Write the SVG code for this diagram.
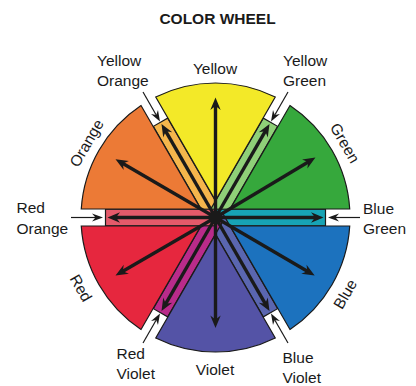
<svg xmlns="http://www.w3.org/2000/svg" width="416" height="386" viewBox="0 0 416 386">
<defs>
<style>
text{font-family:"Liberation Sans",Arial,sans-serif;font-size:15.5px;fill:#1a1a1a}
.title{font-weight:bold;font-size:15.5px}
.sec{stroke:#1a1a1a;stroke-width:1.2}
.strip{stroke:#1a1a1a;stroke-width:1.2}
.thick{stroke:#1a1a1a;stroke-width:3.4;fill:none;marker-end:url(#big)}
.thin{stroke:#1a1a1a;stroke-width:1.2;fill:none;marker-end:url(#small)}
</style>
<marker id="big" markerUnits="userSpaceOnUse" markerWidth="14" markerHeight="12" viewBox="-13 -6 14 12" refX="-6" refY="0" orient="auto"><path d="M0,0 L-12.5,-5.2 L-8.5,0 L-12.5,5.2 Z" fill="#1a1a1a"/></marker>
<marker id="small" markerUnits="userSpaceOnUse" markerWidth="12" markerHeight="10" viewBox="-12 -5 12 10" refX="-3" refY="0" orient="auto"><path d="M0,0 L-11,-4 L-7.5,0 L-11,4 Z" fill="#1a1a1a"/></marker>
</defs>
<rect width="416" height="386" fill="#ffffff"/>
<text class="title" x="217.5" y="24" text-anchor="middle">COLOR WHEEL</text>

<g id="strip-yellow-orange"><rect class="strip" x="0" y="-8.3" width="110" height="16.6" fill="#f5b64c" transform="translate(215.5,217.5) rotate(-120)"/></g>
<g id="strip-yellow-green"><rect class="strip" x="0" y="-8.3" width="110" height="16.6" fill="#8fd078" transform="translate(215.5,217.5) rotate(-60)"/></g>
<g id="strip-blue-green"><rect class="strip" x="0" y="-8.3" width="110" height="16.6" fill="#17a3b5" transform="translate(215.5,217.5) rotate(0)"/></g>
<g id="strip-blue-violet"><rect class="strip" x="0" y="-8.3" width="110" height="16.6" fill="#5a66b0" transform="translate(215.5,217.5) rotate(60)"/></g>
<g id="strip-red-violet"><rect class="strip" x="0" y="-8.3" width="110" height="16.6" fill="#b92b8a" transform="translate(215.5,217.5) rotate(120)"/></g>
<g id="strip-red-orange"><rect class="strip" x="0" y="-8.3" width="110" height="16.6" fill="#e45a6a" transform="translate(215.5,217.5) rotate(180)"/></g>

<g id="yellow"><path class="sec" fill="#f3e928" d="M215.5,200.5 L155.75,97 A134.5,134.5 0 0 1 275.25,97 Z"/></g>
<g id="green"><path class="sec" fill="#36a83c" d="M230.22,209 L289.98,105.5 A134.5,134.5 0 0 1 349.73,209 Z"/></g>
<g id="blue"><path class="sec" fill="#1c72be" d="M230.22,226 L349.73,226 A134.5,134.5 0 0 1 289.98,329.5 Z"/></g>
<g id="violet"><path class="sec" fill="#5453a6" d="M215.5,234.5 L275.25,338 A134.5,134.5 0 0 1 155.75,338 Z"/></g>
<g id="red"><path class="sec" fill="#e6273e" d="M200.78,226 L141.02,329.5 A134.5,134.5 0 0 1 81.27,226 Z"/></g>
<g id="orange"><path class="sec" fill="#ec7a36" d="M200.78,209 L81.27,209 A134.5,134.5 0 0 1 141.02,105.5 Z"/></g>

<g id="connectors">
<line class="thick" x1="215.5" y1="217.5" x2="215.5" y2="103.5"/>
<line class="thick" x1="215.5" y1="217.5" x2="310.3" y2="160.7"/>
<line class="thick" x1="215.5" y1="217.5" x2="309.5" y2="272.5"/>
<line class="thick" x1="215.5" y1="217.5" x2="215.5" y2="322"/>
<line class="thick" x1="215.5" y1="217.5" x2="120.7" y2="272.5"/>
<line class="thick" x1="215.5" y1="217.5" x2="120.7" y2="162.3"/>
<line class="thick" x1="215.5" y1="217.5" x2="164.5" y2="129.2"/>
<line class="thick" x1="215.5" y1="217.5" x2="266.5" y2="129.2"/>
<line class="thick" x1="215.5" y1="217.5" x2="317.5" y2="217.5"/>
<line class="thick" x1="215.5" y1="217.5" x2="266.5" y2="305.8"/>
<line class="thick" x1="215.5" y1="217.5" x2="164.5" y2="305.8"/>
<line class="thick" x1="215.5" y1="217.5" x2="113.5" y2="217.5"/>
<circle cx="215.5" cy="217.5" r="7" fill="#1a1a1a"/>
<line class="thin" x1="143" y1="92" x2="158.5" y2="119"/>
<line class="thin" x1="288" y1="92" x2="272.5" y2="119"/>
<line class="thin" x1="360" y1="217.5" x2="331" y2="217.5"/>
<line class="thin" x1="288" y1="343" x2="272.5" y2="316"/>
<line class="thin" x1="143" y1="343" x2="158.5" y2="316"/>
<line class="thin" x1="71" y1="217.5" x2="100" y2="217.5"/>
</g>

<g id="labels">
<text x="215" y="73.5" text-anchor="middle">Yellow</text>
<text x="97" y="65.5">Yellow</text>
<text x="97" y="86">Orange</text>
<text x="283" y="65.5">Yellow</text>
<text x="283" y="86">Green</text>
<text x="16.5" y="212.5">Red</text>
<text x="16.5" y="233.5">Orange</text>
<text x="363" y="213.5">Blue</text>
<text x="363" y="234">Green</text>
<text x="116.5" y="359">Red</text>
<text x="116.5" y="379">Violet</text>
<text x="215" y="374.5" text-anchor="middle">Violet</text>
<text x="282.5" y="362.5">Blue</text>
<text x="282.5" y="383">Violet</text>
<text transform="translate(86.5,143) rotate(-60)" y="5.5" text-anchor="middle">Orange</text>
<text transform="translate(345,143) rotate(60)" y="5.5" text-anchor="middle">Green</text>
<text transform="translate(81,288) rotate(60)" y="5.5" text-anchor="middle">Red</text>
<text transform="translate(345,294) rotate(-60)" y="5.5" text-anchor="middle">Blue</text>
</g>
</svg>
